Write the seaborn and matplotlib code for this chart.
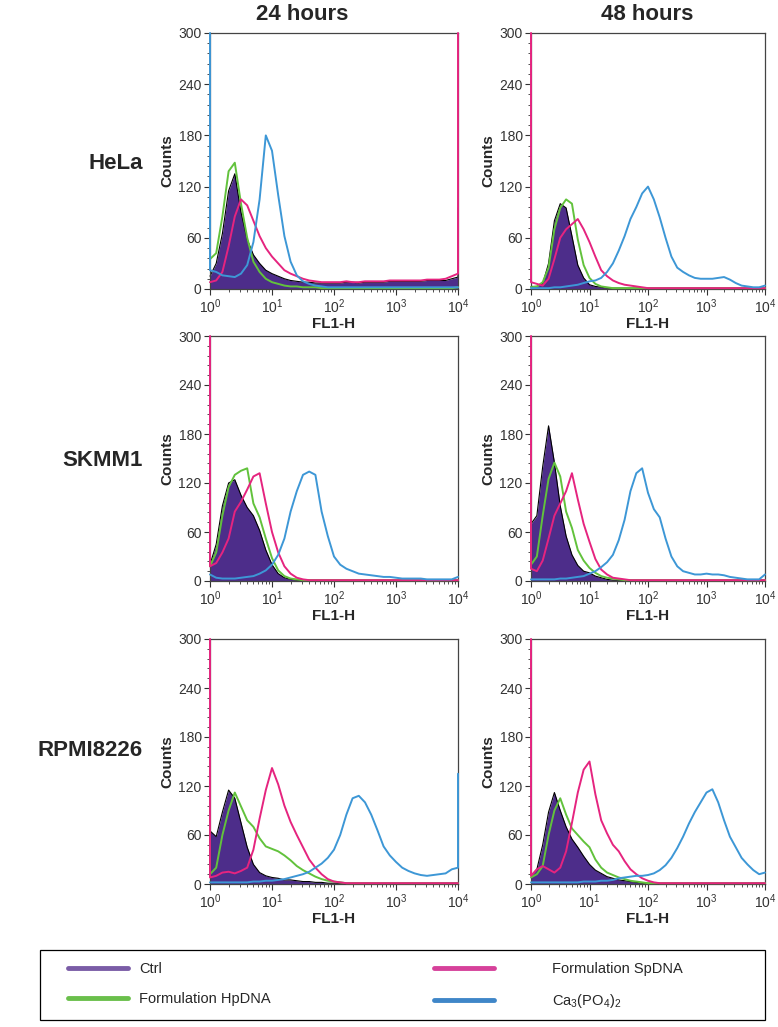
import numpy as np
import pandas as pd
import seaborn as sns
import matplotlib.pyplot as plt
from matplotlib.lines import Line2D
from matplotlib.patches import Rectangle
from matplotlib.ticker import MultipleLocator, LogLocator, NullFormatter

sns.set_style('ticks')
plt.rcParams['font.family'] = ['Liberation Sans', 'DejaVu Sans']
plt.rcParams['mathtext.fontset'] = 'custom'
plt.rcParams['mathtext.rm'] = 'Liberation Sans'
plt.rcParams['mathtext.it'] = 'Liberation Sans:italic'
plt.rcParams['mathtext.bf'] = 'Liberation Sans:bold'

# FL1-H channel positions (decade exponent), one value per bin
FL1_LOG = [0.0, 0.1, 0.2, 0.3, 0.4, 0.5, 0.6, 0.7, 0.8, 0.9,
           1.0, 1.1, 1.2, 1.3, 1.4, 1.5, 1.6, 1.7, 1.8, 1.9,
           2.0, 2.1, 2.2, 2.3, 2.4, 2.5, 2.6, 2.7, 2.8, 2.9,
           3.0, 3.1, 3.2, 3.3, 3.4, 3.5, 3.6, 3.7, 3.8, 3.9,
           4.0]

SAMPLES = ['Ctrl', 'Formulation HpDNA', 'Formulation SpDNA', 'Ca3(PO4)2']
CELL_LINES = ['HeLa', 'SKMM1', 'RPMI8226']
TIMES = ['24 hours', '48 hours']

# HeLa, 24 h
HELA_24_CTRL = [15, 30, 65, 115, 135, 90, 58, 40, 30, 22,
                18, 15, 12, 10, 9, 8, 8, 7, 7, 7,
                7, 7, 8, 8, 7, 8, 8, 8, 8, 9,
                9, 9, 9, 9, 9, 10, 10, 10, 10, 12,
                14]
HELA_24_HP = [35, 42, 85, 138, 148, 100, 60, 32, 20, 12,
              8, 6, 4, 3, 3, 2, 2, 2, 1, 1,
              1, 1, 1, 1, 1, 1, 1, 1, 1, 1,
              1, 1, 1, 1, 1, 1, 1, 1, 1, 1,
              2]
HELA_24_SP = [8, 10, 20, 50, 85, 105, 98, 80, 62, 48,
              38, 30, 22, 18, 15, 12, 10, 9, 8, 8,
              8, 8, 9, 8, 8, 9, 9, 9, 9, 10,
              10, 10, 10, 10, 10, 11, 11, 11, 12, 15,
              18]
HELA_24_CA = [22, 20, 16, 15, 14, 18, 28, 55, 105, 180,
              162, 110, 62, 32, 16, 9, 6, 4, 3, 2,
              2, 2, 2, 2, 2, 2, 2, 2, 2, 2,
              2, 2, 2, 2, 2, 2, 2, 2, 2, 2,
              2]
# off-scale bins at 10^0 and 10^4 (Ctrl, HpDNA, SpDNA, Ca3(PO4)2); 0 = none
HELA_24_EDGE_LO = [0, 0, 0, 300]
HELA_24_EDGE_HI = [95, 0, 300, 0]

# HeLa, 48 h
HELA_48_CTRL = [3, 3, 6, 30, 80, 100, 95, 62, 28, 13,
                5, 3, 2, 1, 1, 1, 1, 1, 1, 1,
                1, 1, 1, 1, 1, 1, 1, 1, 1, 1,
                1, 1, 1, 1, 1, 1, 1, 1, 1, 1,
                1]
HELA_48_HP = [2, 3, 8, 25, 70, 95, 105, 100, 58, 28,
              13, 6, 3, 2, 1, 1, 1, 1, 1, 1,
              1, 1, 1, 1, 1, 1, 1, 1, 1, 1,
              1, 1, 1, 1, 1, 1, 1, 1, 1, 1,
              1]
HELA_48_SP = [8, 6, 4, 12, 35, 60, 70, 76, 82, 70,
              55, 38, 22, 15, 10, 7, 5, 4, 3, 2,
              1, 1, 1, 1, 1, 1, 1, 1, 1, 1,
              1, 1, 1, 1, 1, 1, 1, 1, 1, 1,
              1]
HELA_48_CA = [1, 1, 1, 1, 2, 2, 3, 4, 5, 7,
              9, 10, 13, 20, 30, 45, 62, 82, 96, 112,
              120, 105, 84, 60, 38, 25, 20, 16, 13, 12,
              12, 12, 13, 14, 11, 7, 4, 3, 2, 2,
              4]
HELA_48_EDGE_LO = [0, 0, 300, 0]
HELA_48_EDGE_HI = [0, 0, 0, 0]

# SKMM1, 24 h
SKMM1_24_CTRL = [20, 45, 92, 120, 124, 105, 90, 80, 62, 38,
                 20, 9, 4, 2, 1, 1, 1, 1, 1, 1,
                 1, 1, 1, 1, 1, 1, 1, 1, 1, 1,
                 1, 1, 1, 1, 1, 1, 1, 1, 1, 1,
                 1]
SKMM1_24_HP = [18, 35, 80, 115, 130, 135, 138, 95, 78, 52,
               28, 13, 6, 3, 2, 1, 1, 1, 1, 1,
               1, 1, 1, 1, 1, 1, 1, 1, 1, 1,
               1, 1, 1, 1, 1, 1, 1, 1, 1, 1,
               1]
SKMM1_24_SP = [18, 22, 35, 52, 85, 97, 112, 128, 132, 95,
               60, 35, 18, 9, 4, 2, 1, 1, 1, 1,
               1, 1, 1, 1, 1, 1, 1, 1, 1, 1,
               1, 1, 1, 1, 1, 1, 1, 1, 1, 1,
               1]
SKMM1_24_CA = [8, 4, 3, 3, 3, 4, 5, 6, 9, 13,
               20, 32, 52, 85, 110, 130, 134, 130, 85, 55,
               30, 20, 15, 12, 9, 8, 7, 6, 5, 5,
               4, 3, 3, 3, 3, 2, 2, 2, 2, 2,
               5]
SKMM1_24_EDGE_LO = [0, 155, 300, 0]
SKMM1_24_EDGE_HI = [0, 0, 0, 0]

# SKMM1, 48 h
SKMM1_48_CTRL = [70, 80, 140, 190, 145, 92, 55, 32, 19, 12,
                 10, 6, 4, 2, 1, 1, 1, 1, 1, 1,
                 1, 1, 1, 1, 1, 1, 1, 1, 1, 1,
                 1, 1, 1, 1, 1, 1, 1, 1, 1, 1,
                 1]
SKMM1_48_HP = [20, 30, 80, 125, 145, 128, 85, 65, 38, 25,
               16, 10, 6, 4, 3, 2, 1, 1, 1, 1,
               1, 1, 1, 1, 1, 1, 1, 1, 1, 1,
               1, 1, 1, 1, 1, 1, 1, 1, 1, 1,
               1]
SKMM1_48_SP = [15, 12, 25, 52, 80, 95, 110, 132, 100, 70,
               48, 27, 14, 8, 4, 3, 2, 1, 1, 1,
               1, 1, 1, 1, 1, 1, 1, 1, 1, 1,
               1, 1, 1, 1, 1, 1, 1, 1, 1, 1,
               1]
SKMM1_48_CA = [2, 2, 2, 2, 2, 3, 3, 4, 5, 6,
               9, 12, 17, 23, 32, 50, 75, 110, 132, 138,
               108, 88, 78, 52, 30, 18, 12, 10, 8, 8,
               9, 8, 8, 7, 5, 4, 3, 2, 2, 2,
               8]
SKMM1_48_EDGE_LO = [0, 160, 300, 0]
SKMM1_48_EDGE_HI = [0, 0, 0, 0]

# RPMI8226, 24 h
RPMI_24_CTRL = [65, 58, 88, 115, 105, 75, 45, 24, 14, 10,
                8, 7, 5, 5, 4, 3, 3, 2, 2, 1,
                1, 1, 1, 1, 1, 1, 1, 1, 1, 1,
                1, 1, 1, 1, 1, 1, 1, 1, 1, 1,
                1]
RPMI_24_HP = [12, 20, 60, 90, 112, 95, 78, 70, 56, 46,
              43, 40, 35, 29, 22, 17, 13, 9, 6, 4,
              3, 2, 1, 1, 1, 1, 1, 1, 1, 1,
              1, 1, 1, 1, 1, 1, 1, 1, 1, 1,
              1]
RPMI_24_SP = [8, 10, 14, 15, 13, 16, 20, 42, 80, 115,
              142, 122, 96, 76, 60, 45, 30, 20, 12, 6,
              3, 2, 1, 1, 1, 1, 1, 1, 1, 1,
              1, 1, 1, 1, 1, 1, 1, 1, 1, 1,
              1]
RPMI_24_CA = [2, 2, 2, 2, 2, 2, 2, 3, 3, 4,
              4, 5, 6, 8, 10, 12, 15, 20, 25, 32,
              42, 60, 85, 105, 108, 100, 85, 66, 46, 35,
              27, 20, 16, 13, 11, 10, 11, 12, 13, 18,
              20]
RPMI_24_EDGE_LO = [0, 155, 300, 0]
RPMI_24_EDGE_HI = [0, 0, 0, 135]

# RPMI8226, 48 h
RPMI_48_CTRL = [10, 18, 48, 88, 112, 90, 70, 55, 45, 34,
                24, 17, 13, 9, 7, 5, 4, 3, 2, 1,
                1, 1, 1, 1, 1, 1, 1, 1, 1, 1,
                1, 1, 1, 1, 1, 1, 1, 1, 1, 1,
                1]
RPMI_48_HP = [8, 12, 22, 60, 90, 105, 85, 68, 60, 52,
              45, 30, 20, 14, 11, 8, 6, 4, 3, 2,
              1, 1, 1, 1, 1, 1, 1, 1, 1, 1,
              1, 1, 1, 1, 1, 1, 1, 1, 1, 1,
              1]
RPMI_48_SP = [10, 18, 22, 18, 14, 20, 40, 75, 112, 140,
              150, 110, 78, 62, 48, 40, 28, 18, 12, 7,
              4, 2, 1, 1, 1, 1, 1, 1, 1, 1,
              1, 1, 1, 1, 1, 1, 1, 1, 1, 1,
              1]
RPMI_48_CA = [2, 2, 2, 2, 2, 2, 2, 2, 2, 3,
              3, 3, 4, 4, 5, 7, 8, 9, 10, 10,
              11, 13, 17, 23, 32, 44, 58, 74, 88, 100,
              112, 116, 100, 78, 58, 45, 32, 24, 17, 12,
              14]
RPMI_48_EDGE_LO = [0, 0, 300, 0]
RPMI_48_EDGE_HI = [0, 0, 0, 0]

PANELS = {
    ('HeLa', '24 hours'): ([HELA_24_CTRL, HELA_24_HP, HELA_24_SP, HELA_24_CA],
                           HELA_24_EDGE_LO, HELA_24_EDGE_HI),
    ('HeLa', '48 hours'): ([HELA_48_CTRL, HELA_48_HP, HELA_48_SP, HELA_48_CA],
                           HELA_48_EDGE_LO, HELA_48_EDGE_HI),
    ('SKMM1', '24 hours'): ([SKMM1_24_CTRL, SKMM1_24_HP, SKMM1_24_SP, SKMM1_24_CA],
                            SKMM1_24_EDGE_LO, SKMM1_24_EDGE_HI),
    ('SKMM1', '48 hours'): ([SKMM1_48_CTRL, SKMM1_48_HP, SKMM1_48_SP, SKMM1_48_CA],
                            SKMM1_48_EDGE_LO, SKMM1_48_EDGE_HI),
    ('RPMI8226', '24 hours'): ([RPMI_24_CTRL, RPMI_24_HP, RPMI_24_SP, RPMI_24_CA],
                               RPMI_24_EDGE_LO, RPMI_24_EDGE_HI),
    ('RPMI8226', '48 hours'): ([RPMI_48_CTRL, RPMI_48_HP, RPMI_48_SP, RPMI_48_CA],
                               RPMI_48_EDGE_LO, RPMI_48_EDGE_HI),
}

LINE_COLORS = {'Formulation HpDNA': '#62c23c',
               'Formulation SpDNA': '#e5247f',
               'Ca3(PO4)2': '#3d97d6'}
CTRL_FILL = '#4d2d8a'
LEGEND_COLORS = ['#7a5ca6', '#6abf4b', '#d6419a', '#3f86c8']
LEGEND_LABELS = ['Ctrl', 'Formulation HpDNA', 'Formulation SpDNA',
                 r'Ca$_3$(PO$_4$)$_2$']

W, H = 778, 1027
COL_X = [(210, 458), (531, 765)]
ROW_Y = [(33, 289), (336, 581), (639, 884)]


def panel_frame(vals, edge_lo, edge_hi):
    # one long table, the off-scale bins added as extra points at the axis ends
    rows = []
    for name, v, lo, hi in zip(SAMPLES, vals, edge_lo, edge_hi):
        xs = list(FL1_LOG)
        ys = list(v)
        if lo:
            xs = [FL1_LOG[0]] + xs
            ys = [lo] + ys
        if hi:
            xs = xs + [FL1_LOG[-1]]
            ys = ys + [hi]
        for i, (a, b) in enumerate(zip(xs, ys)):
            rows.append((name, i, 10 ** a, b))
    return pd.DataFrame(rows, columns=['sample', 'order', 'FL1-H', 'Counts'])


fig = plt.figure(figsize=(W / 100, H / 100), dpi=100)

for r, cell in enumerate(CELL_LINES):
    for c, t in enumerate(TIMES):
        x0, x1 = COL_X[c]
        y0, y1 = ROW_Y[r]
        ax = fig.add_axes([x0 / W, 1 - y1 / H, (x1 - x0) / W, (y1 - y0) / H])
        ax.set_xscale('log')

        vals, lo, hi = PANELS[(cell, t)]
        df = panel_frame(vals, lo, hi)
        ctrl = df[df['sample'] == 'Ctrl']
        ax.fill_between(ctrl['FL1-H'], ctrl['Counts'], color=CTRL_FILL,
                        lw=0, zorder=1)
        sns.lineplot(data=ctrl, x='FL1-H', y='Counts', color='black',
                     lw=0.8, estimator=None, sort=False, ax=ax, zorder=2,
                     clip_on=False)
        sns.lineplot(data=df[df['sample'] != 'Ctrl'], x='FL1-H', y='Counts',
                     hue='sample', hue_order=SAMPLES[1:], palette=LINE_COLORS,
                     units='sample', estimator=None, sort=False,
                     lw=1.4, legend=False, ax=ax, zorder=3, clip_on=False)

        ax.set_xlim(1, 1e4)
        ax.set_ylim(0, 300)
        ax.set_yticks(range(0, 301, 60))
        ax.yaxis.set_minor_locator(MultipleLocator(12))
        ax.xaxis.set_major_locator(LogLocator(base=10, numticks=10))
        ax.xaxis.set_minor_locator(LogLocator(base=10, subs=np.arange(2, 10), numticks=10))
        ax.xaxis.set_minor_formatter(NullFormatter())
        ax.tick_params(which='major', direction='out', length=4, width=0.8,
                       colors='#333333', labelsize=10, pad=2)
        ax.tick_params(which='minor', direction='out', length=2, width=0.6,
                       colors='#333333')
        for s in ax.spines.values():
            s.set_color('#444444')
            s.set_linewidth(0.9)
        ax.set_xlabel('FL1-H', fontweight='bold', fontsize=11, labelpad=1)
        ax.set_ylabel('Counts', fontweight='bold', fontsize=11, labelpad=3)

# column titles
fig.text(302 / W, 1 - 14 / H, TIMES[0], ha='center', va='center',
         fontsize=16, fontweight='bold')
fig.text(647 / W, 1 - 14 / H, TIMES[1], ha='center', va='center',
         fontsize=16, fontweight='bold')

# row labels
for r, cell in enumerate(CELL_LINES):
    yc = [163, 460, 750][r]
    fig.text(143 / W, 1 - yc / H, cell, ha='right', va='center',
             fontsize=16, fontweight='bold')

# legend box with two columns of entries
fig.patches.append(Rectangle((40 / W, 1 - 1020 / H), 725 / W, 70 / H,
                             transform=fig.transFigure, fill=False,
                             ec='black', lw=0.9))
handles = [Line2D([0], [0], color=col, lw=3.5) for col in LEGEND_COLORS]
fig.legend(handles[:2], LEGEND_LABELS[:2], loc='upper left',
           bbox_to_anchor=(68 / W, 1 - 962 / H), frameon=False,
           handlelength=4.1, handletextpad=0.8,
           fontsize=10.5, labelspacing=1.1, borderaxespad=0, borderpad=0)
fig.legend(handles[2:], LEGEND_LABELS[2:], loc='upper left',
           bbox_to_anchor=(434 / W, 1 - 962 / H), frameon=False,
           handlelength=4.1, handletextpad=4.0,
           fontsize=10.5, labelspacing=1.1, borderaxespad=0, borderpad=0)

fig.savefig('out.png', dpi=100)
